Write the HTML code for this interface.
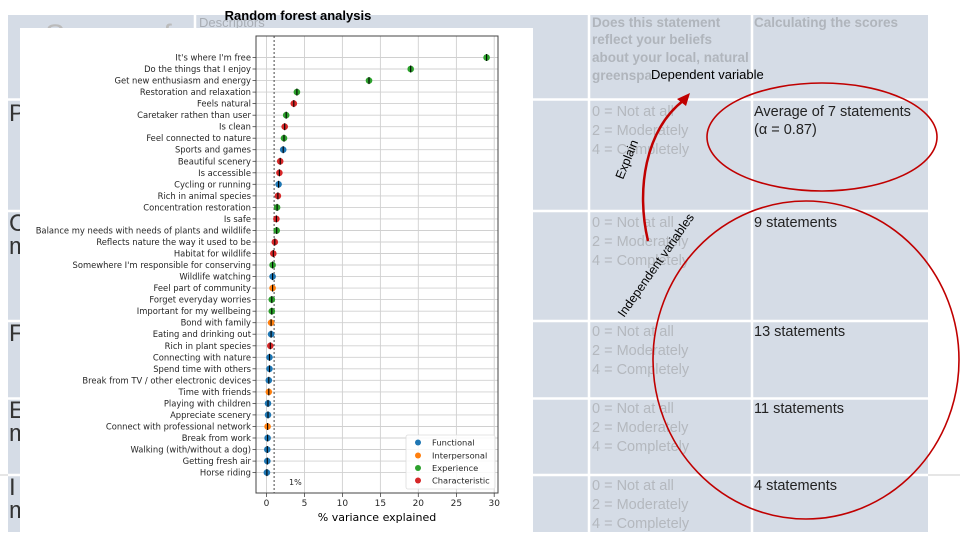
<!DOCTYPE html>
<html><head><meta charset="utf-8"><style>
html,body{margin:0;padding:0;background:#fff;}
svg{display:block;}
.lb{font-family:"DejaVu Sans",sans-serif;font-size:8.4px;fill:#262626;text-anchor:end;}
.tk{font-family:"DejaVu Sans",sans-serif;font-size:9px;fill:#262626;text-anchor:middle;}
.g{font-family:"Liberation Sans",sans-serif;font-size:14.5px;fill:#b4b8be;}
.k{font-family:"Liberation Sans",sans-serif;font-size:14.5px;fill:#222;}
.big{font-family:"Liberation Sans",sans-serif;font-size:24px;fill:#333;}
</style></head><body>
<svg width="960" height="540" viewBox="0 0 960 540" xmlns="http://www.w3.org/2000/svg">
<!-- background table -->
<rect x="8" y="15" width="920" height="517" fill="#d5dce6"/>
<g stroke="#fff" stroke-width="2.5">
<line x1="8" y1="99.5" x2="928" y2="99.5"/>
<line x1="8" y1="211" x2="928" y2="211"/>
<line x1="8" y1="321" x2="928" y2="321"/>
<line x1="8" y1="398.5" x2="928" y2="398.5"/>
<line x1="8" y1="475" x2="928" y2="475"/>
<line x1="195" y1="15" x2="195" y2="532"/>
<line x1="589" y1="15" x2="589" y2="532"/>
<line x1="752" y1="15" x2="752" y2="532"/>
</g>
<line x1="928" y1="475" x2="960" y2="475" stroke="#ccc" stroke-width="1"/>
<line x1="0" y1="475" x2="8" y2="475" stroke="#ccc" stroke-width="1"/>
<text x="45" y="45" style="font-family:'Liberation Sans',sans-serif;font-size:30px;fill:#bbb">Scores of</text>
<text x="199" y="27" style="font-family:'Liberation Sans',sans-serif;font-size:13px;fill:#a8adb4">Descriptors</text>
<text class="big" x="9" y="121">P</text>
<text class="big" x="9" y="231">C</text><text class="big" x="9" y="254">m</text>
<text class="big" x="9" y="341">F</text>
<text class="big" x="9" y="418">E</text><text class="big" x="9" y="441">m</text>
<text class="big" x="9" y="495">I</text><text class="big" x="9" y="518">m</text>
<g style="font-family:'Liberation Sans',sans-serif;font-size:13.5px;font-weight:bold;fill:#b0b5bc">
<text x="592" y="27">Does this statement</text>
<text x="592" y="44">reflect your beliefs</text>
<text x="592" y="62">about your local, natural</text>
<text x="592" y="80">greenspa</text>
<text x="754" y="27">Calculating the scores</text>
</g>
<g class="g">
<text x="592" y="116">0 = Not at all</text><text x="592" y="135">2 = Moderately</text><text x="592" y="154">4 = Completely</text>
<text x="592" y="227">0 = Not at all</text><text x="592" y="246">2 = Moderately</text><text x="592" y="265">4 = Completely</text>
<text x="592" y="336">0 = Not at all</text><text x="592" y="355">2 = Moderately</text><text x="592" y="374">4 = Completely</text>
<text x="592" y="413">0 = Not at all</text><text x="592" y="432">2 = Moderately</text><text x="592" y="451">4 = Completely</text>
<text x="592" y="490">0 = Not at all</text><text x="592" y="509">2 = Moderately</text><text x="592" y="528">4 = Completely</text>
</g>
<g class="k">
<text x="754" y="116">Average of 7 statements</text><text x="754" y="134">(α = 0.87)</text>
<text x="754" y="227">9 statements</text>
<text x="754" y="336">13 statements</text>
<text x="754" y="413">11 statements</text>
<text x="754" y="490">4 statements</text>
</g>
<!-- annotations -->
<text x="651" y="79" style="font-family:'Liberation Sans',sans-serif;font-size:13px;fill:#000">Dependent variable</text>
<ellipse cx="822" cy="137" rx="115" ry="54" fill="none" stroke="#c00000" stroke-width="1.6"/>
<ellipse cx="806" cy="360" rx="153" ry="159" fill="none" stroke="#c00000" stroke-width="1.6"/>
<path d="M648,241 C636,190 645,130 684,100" fill="none" stroke="#c00000" stroke-width="2.5"/>
<polygon points="690,93 677,99 686,106" fill="#c00000"/>
<text transform="translate(623,180) rotate(-68)" style="font-family:'Liberation Sans',sans-serif;font-size:12.5px;fill:#000">Explain</text>
<text transform="translate(624,318) rotate(-55)" style="font-family:'Liberation Sans',sans-serif;font-size:12.5px;fill:#000">Independent variables</text>

<!-- chart box -->
<rect x="20" y="28" width="513" height="504" fill="#fff"/>
<text x="298" y="20" text-anchor="middle" style="font-family:'Liberation Sans',sans-serif;font-size:13px;font-weight:bold;fill:#000">Random forest analysis</text>
<!-- grid -->
<g stroke="#d0d0d0" stroke-width="0.9">
<line x1="266.5" y1="36" x2="266.5" y2="493"/><line x1="304.5" y1="36" x2="304.5" y2="493"/><line x1="342.4" y1="36" x2="342.4" y2="493"/><line x1="380.4" y1="36" x2="380.4" y2="493"/><line x1="418.3" y1="36" x2="418.3" y2="493"/><line x1="456.4" y1="36" x2="456.4" y2="493"/><line x1="494.2" y1="36" x2="494.2" y2="493"/>
<line x1="256" y1="57.5" x2="498" y2="57.5"/><line x1="256" y1="69.0" x2="498" y2="69.0"/><line x1="256" y1="80.6" x2="498" y2="80.6"/><line x1="256" y1="92.1" x2="498" y2="92.1"/><line x1="256" y1="103.6" x2="498" y2="103.6"/><line x1="256" y1="115.2" x2="498" y2="115.2"/><line x1="256" y1="126.7" x2="498" y2="126.7"/><line x1="256" y1="138.2" x2="498" y2="138.2"/><line x1="256" y1="149.7" x2="498" y2="149.7"/><line x1="256" y1="161.3" x2="498" y2="161.3"/><line x1="256" y1="172.8" x2="498" y2="172.8"/><line x1="256" y1="184.3" x2="498" y2="184.3"/><line x1="256" y1="195.9" x2="498" y2="195.9"/><line x1="256" y1="207.4" x2="498" y2="207.4"/><line x1="256" y1="218.9" x2="498" y2="218.9"/><line x1="256" y1="230.5" x2="498" y2="230.5"/><line x1="256" y1="242.0" x2="498" y2="242.0"/><line x1="256" y1="253.5" x2="498" y2="253.5"/><line x1="256" y1="265.0" x2="498" y2="265.0"/><line x1="256" y1="276.6" x2="498" y2="276.6"/><line x1="256" y1="288.1" x2="498" y2="288.1"/><line x1="256" y1="299.6" x2="498" y2="299.6"/><line x1="256" y1="311.2" x2="498" y2="311.2"/><line x1="256" y1="322.7" x2="498" y2="322.7"/><line x1="256" y1="334.2" x2="498" y2="334.2"/><line x1="256" y1="345.8" x2="498" y2="345.8"/><line x1="256" y1="357.3" x2="498" y2="357.3"/><line x1="256" y1="368.8" x2="498" y2="368.8"/><line x1="256" y1="380.3" x2="498" y2="380.3"/><line x1="256" y1="391.9" x2="498" y2="391.9"/><line x1="256" y1="403.4" x2="498" y2="403.4"/><line x1="256" y1="414.9" x2="498" y2="414.9"/><line x1="256" y1="426.5" x2="498" y2="426.5"/><line x1="256" y1="438.0" x2="498" y2="438.0"/><line x1="256" y1="449.5" x2="498" y2="449.5"/><line x1="256" y1="461.1" x2="498" y2="461.1"/><line x1="256" y1="472.6" x2="498" y2="472.6"/>
</g>
<line x1="274.1" y1="36" x2="274.1" y2="493" stroke="#333" stroke-width="0.9" stroke-dasharray="2,2"/>
<text x="289" y="485" style="font-family:'DejaVu Sans',sans-serif;font-size:8px;fill:#262626">1%</text>
<rect x="256" y="36" width="242" height="457" fill="none" stroke="#444" stroke-width="1"/>
<!-- x ticks -->
<g stroke="#444" stroke-width="0.8">
<line x1="266.5" y1="493" x2="266.5" y2="497"/><line x1="304.5" y1="493" x2="304.5" y2="497"/><line x1="342.4" y1="493" x2="342.4" y2="497"/><line x1="380.4" y1="493" x2="380.4" y2="497"/><line x1="418.3" y1="493" x2="418.3" y2="497"/><line x1="456.4" y1="493" x2="456.4" y2="497"/><line x1="494.2" y1="493" x2="494.2" y2="497"/>
</g>
<text class="tk" x="266.5" y="506">0</text><text class="tk" x="304.5" y="506">5</text><text class="tk" x="342.4" y="506">10</text><text class="tk" x="380.4" y="506">15</text><text class="tk" x="418.3" y="506">20</text><text class="tk" x="456.4" y="506">25</text><text class="tk" x="494.2" y="506">30</text>
<text x="377" y="521" text-anchor="middle" style="font-family:'DejaVu Sans',sans-serif;font-size:11px;fill:#000">% variance explained</text>
<!-- y labels -->
<g class="lb">
<text x="251" y="60.5">It's where I'm free</text>
<text x="251" y="72.0">Do the things that I enjoy</text>
<text x="251" y="83.6">Get new enthusiasm and energy</text>
<text x="251" y="95.1">Restoration and relaxation</text>
<text x="251" y="106.6">Feels natural</text>
<text x="251" y="118.2">Caretaker rathen than user</text>
<text x="251" y="129.7">Is clean</text>
<text x="251" y="141.2">Feel connected to nature</text>
<text x="251" y="152.7">Sports and games</text>
<text x="251" y="164.3">Beautiful scenery</text>
<text x="251" y="175.8">Is accessible</text>
<text x="251" y="187.3">Cycling or running</text>
<text x="251" y="198.9">Rich in animal species</text>
<text x="251" y="210.4">Concentration restoration</text>
<text x="251" y="221.9">Is safe</text>
<text x="251" y="233.5">Balance my needs with needs of plants and wildlife</text>
<text x="251" y="245.0">Reflects nature the way it used to be</text>
<text x="251" y="256.5">Habitat for wildlife</text>
<text x="251" y="268.0">Somewhere I'm responsible for conserving</text>
<text x="251" y="279.6">Wildlife watching</text>
<text x="251" y="291.1">Feel part of community</text>
<text x="251" y="302.6">Forget everyday worries</text>
<text x="251" y="314.2">Important for my wellbeing</text>
<text x="251" y="325.7">Bond with family</text>
<text x="251" y="337.2">Eating and drinking out</text>
<text x="251" y="348.8">Rich in plant species</text>
<text x="251" y="360.3">Connecting with nature</text>
<text x="251" y="371.8">Spend time with others</text>
<text x="251" y="383.3">Break from TV / other electronic devices</text>
<text x="251" y="394.9">Time with friends</text>
<text x="251" y="406.4">Playing with children</text>
<text x="251" y="417.9">Appreciate scenery</text>
<text x="251" y="429.5">Connect with professional network</text>
<text x="251" y="441.0">Break from work</text>
<text x="251" y="452.5">Walking (with/without a dog)</text>
<text x="251" y="464.1">Getting fresh air</text>
<text x="251" y="475.6">Horse riding</text>
</g>
<!-- markers -->
<g>
<circle cx="486.6" cy="57.5" r="3.3" fill="#2ca02c"/><circle cx="410.7" cy="69.0" r="3.3" fill="#2ca02c"/><circle cx="369.0" cy="80.6" r="3.3" fill="#2ca02c"/><circle cx="296.9" cy="92.1" r="3.3" fill="#2ca02c"/><circle cx="293.8" cy="103.6" r="3.3" fill="#d62728"/><circle cx="286.2" cy="115.2" r="3.3" fill="#2ca02c"/><circle cx="284.7" cy="126.7" r="3.3" fill="#d62728"/><circle cx="284.0" cy="138.2" r="3.3" fill="#2ca02c"/><circle cx="283.2" cy="149.7" r="3.3" fill="#1f77b4"/><circle cx="280.2" cy="161.3" r="3.3" fill="#d62728"/><circle cx="279.4" cy="172.8" r="3.3" fill="#d62728"/><circle cx="278.6" cy="184.3" r="3.3" fill="#1f77b4"/><circle cx="277.9" cy="195.9" r="3.3" fill="#d62728"/><circle cx="277.1" cy="207.4" r="3.3" fill="#2ca02c"/><circle cx="276.4" cy="218.9" r="3.3" fill="#d62728"/><circle cx="276.7" cy="230.5" r="3.3" fill="#2ca02c"/><circle cx="274.8" cy="242.0" r="3.3" fill="#d62728"/><circle cx="273.3" cy="253.5" r="3.3" fill="#d62728"/><circle cx="272.6" cy="265.0" r="3.3" fill="#2ca02c"/><circle cx="272.6" cy="276.6" r="3.3" fill="#1f77b4"/><circle cx="272.6" cy="288.1" r="3.3" fill="#ff7f0e"/><circle cx="271.8" cy="299.6" r="3.3" fill="#2ca02c"/><circle cx="271.8" cy="311.2" r="3.3" fill="#2ca02c"/><circle cx="271.1" cy="322.7" r="3.3" fill="#ff7f0e"/><circle cx="271.1" cy="334.2" r="3.3" fill="#1f77b4"/><circle cx="270.3" cy="345.8" r="3.3" fill="#d62728"/><circle cx="269.5" cy="357.3" r="3.3" fill="#1f77b4"/><circle cx="269.5" cy="368.8" r="3.3" fill="#1f77b4"/><circle cx="268.8" cy="380.3" r="3.3" fill="#1f77b4"/><circle cx="268.8" cy="391.9" r="3.3" fill="#ff7f0e"/><circle cx="268.0" cy="403.4" r="3.3" fill="#1f77b4"/><circle cx="268.0" cy="414.9" r="3.3" fill="#1f77b4"/><circle cx="267.6" cy="426.5" r="3.3" fill="#ff7f0e"/><circle cx="267.6" cy="438.0" r="3.3" fill="#1f77b4"/><circle cx="267.3" cy="449.5" r="3.3" fill="#1f77b4"/><circle cx="267.3" cy="461.1" r="3.3" fill="#1f77b4"/><circle cx="266.9" cy="472.6" r="3.3" fill="#1f77b4"/>
</g>
<g stroke="#000" stroke-width="1.1">
<line x1="486.6" y1="54" x2="486.6" y2="61"/><line x1="410.7" y1="65.5" x2="410.7" y2="72.5"/><line x1="369.0" y1="77.1" x2="369.0" y2="84.1"/><line x1="296.9" y1="88.6" x2="296.9" y2="95.6"/><line x1="293.8" y1="100.1" x2="293.8" y2="107.1"/><line x1="286.2" y1="111.7" x2="286.2" y2="118.7"/><line x1="284.7" y1="123.2" x2="284.7" y2="130.2"/><line x1="284.0" y1="134.7" x2="284.0" y2="141.7"/><line x1="283.2" y1="146.2" x2="283.2" y2="153.2"/><line x1="280.2" y1="157.8" x2="280.2" y2="164.8"/><line x1="279.4" y1="169.3" x2="279.4" y2="176.3"/><line x1="278.6" y1="180.8" x2="278.6" y2="187.8"/><line x1="277.9" y1="192.4" x2="277.9" y2="199.4"/><line x1="277.1" y1="203.9" x2="277.1" y2="210.9"/><line x1="276.4" y1="215.4" x2="276.4" y2="222.4"/><line x1="276.7" y1="227.0" x2="276.7" y2="234.0"/><line x1="274.8" y1="238.5" x2="274.8" y2="245.5"/><line x1="273.3" y1="250.0" x2="273.3" y2="257.0"/><line x1="272.6" y1="261.5" x2="272.6" y2="268.5"/><line x1="272.6" y1="273.1" x2="272.6" y2="280.1"/><line x1="272.6" y1="284.6" x2="272.6" y2="291.6"/><line x1="271.8" y1="296.1" x2="271.8" y2="303.1"/><line x1="271.8" y1="307.7" x2="271.8" y2="314.7"/><line x1="271.1" y1="319.2" x2="271.1" y2="326.2"/><line x1="271.1" y1="330.7" x2="271.1" y2="337.7"/><line x1="270.3" y1="342.3" x2="270.3" y2="349.3"/><line x1="269.5" y1="353.8" x2="269.5" y2="360.8"/><line x1="269.5" y1="365.3" x2="269.5" y2="372.3"/><line x1="268.8" y1="376.8" x2="268.8" y2="383.8"/><line x1="268.8" y1="388.4" x2="268.8" y2="395.4"/><line x1="268.0" y1="399.9" x2="268.0" y2="406.9"/><line x1="268.0" y1="411.4" x2="268.0" y2="418.4"/><line x1="267.6" y1="423.0" x2="267.6" y2="430.0"/><line x1="267.6" y1="434.5" x2="267.6" y2="441.5"/><line x1="267.3" y1="446.0" x2="267.3" y2="453.0"/><line x1="267.3" y1="457.6" x2="267.3" y2="464.6"/><line x1="266.9" y1="469.1" x2="266.9" y2="476.1"/>
</g>
<!-- y ticks -->
<g stroke="#444" stroke-width="0.8">
<line x1="252.5" y1="57.5" x2="256" y2="57.5"/><line x1="252.5" y1="69.0" x2="256" y2="69.0"/><line x1="252.5" y1="80.6" x2="256" y2="80.6"/><line x1="252.5" y1="92.1" x2="256" y2="92.1"/><line x1="252.5" y1="103.6" x2="256" y2="103.6"/><line x1="252.5" y1="115.2" x2="256" y2="115.2"/><line x1="252.5" y1="126.7" x2="256" y2="126.7"/><line x1="252.5" y1="138.2" x2="256" y2="138.2"/><line x1="252.5" y1="149.7" x2="256" y2="149.7"/><line x1="252.5" y1="161.3" x2="256" y2="161.3"/><line x1="252.5" y1="172.8" x2="256" y2="172.8"/><line x1="252.5" y1="184.3" x2="256" y2="184.3"/><line x1="252.5" y1="195.9" x2="256" y2="195.9"/><line x1="252.5" y1="207.4" x2="256" y2="207.4"/><line x1="252.5" y1="218.9" x2="256" y2="218.9"/><line x1="252.5" y1="230.5" x2="256" y2="230.5"/><line x1="252.5" y1="242.0" x2="256" y2="242.0"/><line x1="252.5" y1="253.5" x2="256" y2="253.5"/><line x1="252.5" y1="265.0" x2="256" y2="265.0"/><line x1="252.5" y1="276.6" x2="256" y2="276.6"/><line x1="252.5" y1="288.1" x2="256" y2="288.1"/><line x1="252.5" y1="299.6" x2="256" y2="299.6"/><line x1="252.5" y1="311.2" x2="256" y2="311.2"/><line x1="252.5" y1="322.7" x2="256" y2="322.7"/><line x1="252.5" y1="334.2" x2="256" y2="334.2"/><line x1="252.5" y1="345.8" x2="256" y2="345.8"/><line x1="252.5" y1="357.3" x2="256" y2="357.3"/><line x1="252.5" y1="368.8" x2="256" y2="368.8"/><line x1="252.5" y1="380.3" x2="256" y2="380.3"/><line x1="252.5" y1="391.9" x2="256" y2="391.9"/><line x1="252.5" y1="403.4" x2="256" y2="403.4"/><line x1="252.5" y1="414.9" x2="256" y2="414.9"/><line x1="252.5" y1="426.5" x2="256" y2="426.5"/><line x1="252.5" y1="438.0" x2="256" y2="438.0"/><line x1="252.5" y1="449.5" x2="256" y2="449.5"/><line x1="252.5" y1="461.1" x2="256" y2="461.1"/><line x1="252.5" y1="472.6" x2="256" y2="472.6"/>
</g>
<!-- legend -->
<rect x="406" y="435" width="89" height="54" rx="2" fill="#fff" fill-opacity="0.85" stroke="#ddd" stroke-width="0.8"/>
<circle cx="418" cy="442.5" r="3" fill="#1f77b4"/><circle cx="418" cy="455.5" r="3" fill="#ff7f0e"/><circle cx="418" cy="468" r="3" fill="#2ca02c"/><circle cx="418" cy="480.5" r="3" fill="#d62728"/>
<g style="font-family:'DejaVu Sans',sans-serif;font-size:8.3px;fill:#262626">
<text x="432" y="445.5">Functional</text><text x="432" y="458.5">Interpersonal</text><text x="432" y="471">Experience</text><text x="432" y="483.5">Characteristic</text>
</g>
</svg>
</body></html>
